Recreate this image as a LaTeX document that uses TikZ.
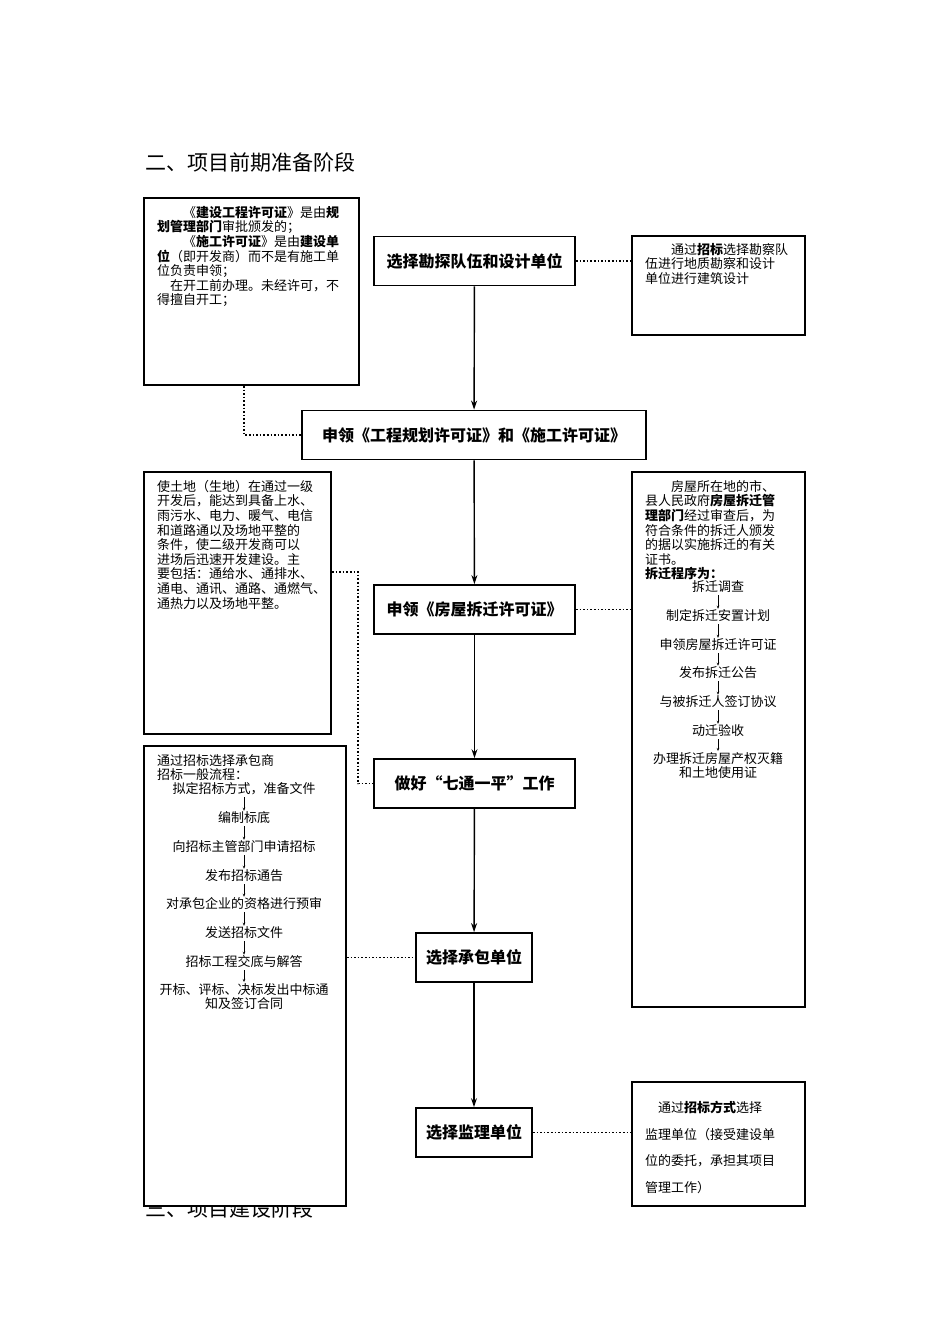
\documentclass[tikz,border=0pt]{standalone}
\usepackage{fontspec}
\setmainfont{Noto Sans CJK SC}
\usetikzlibrary{arrows.meta}
\begin{document}
\begin{tikzpicture}[x=1pt,y=-1pt,
  frame/.style={draw,line width=1.8pt,fill=white},
  flow/.style={draw,line width=1.8pt,font=\fontsize{16}{18}\selectfont\bfseries,inner sep=0pt,minimum height=49pt},
  txt/.style={anchor=north west,align=left,inner sep=0pt,font=\fontsize{13}{14.6}\selectfont},
  item/.style={inner sep=0pt,align=center,font=\fontsize{13}{14.6}\selectfont},
  dot/.style={dotted,line width=1.6pt},
  arr/.style={-{Stealth[length=9pt,width=6pt]},line width=1.4pt},
  sarr/.style={-{Stealth[length=3pt,width=2.5pt]},line width=0.5pt}]
\useasboundingbox (0,0) rectangle (950,1344);
\node[anchor=west,inner sep=0pt,font=\fontsize{21}{24}\selectfont] (t1) at (145,162) {二、项目前期准备阶段};
\node[anchor=west,inner sep=0pt,font=\fontsize{21}{24}\selectfont] (t2) at (145,1208) {三、项目建设阶段};
% frames
\node[frame,minimum width=215pt,minimum height=187pt,inner sep=0pt] (A) at (251.5,291.5) {};
\node[frame,minimum width=173pt,minimum height=99pt,inner sep=0pt] (B) at (718.5,285.5) {};
\node[frame,minimum width=187pt,minimum height=262pt,inner sep=0pt] (C) at (237.5,603) {};
\node[frame,minimum width=173pt,minimum height=535pt,inner sep=0pt] (D) at (718.5,739.5) {};
\node[frame,minimum width=202pt,minimum height=460pt,inner sep=0pt] (E) at (245,976) {};
\node[frame,minimum width=173pt,minimum height=124pt,inner sep=0pt] (F) at (718.5,1144) {};
% flow boxes
\node[flow,minimum width=201pt] (f1) at (474.5,261) {选择勘探队伍和设计单位};
\node[flow,minimum width=344pt] (f2) at (474,435) {申领《工程规划许可证》和《施工许可证》};
\node[flow,minimum width=201pt] (f3) at (474.5,609.5) {申领《房屋拆迁许可证》};
\node[flow,minimum width=201pt] (f4) at (474.5,783.5) {做好“七通一平”工作};
\node[flow,minimum width=116pt] (f5) at (474,957.5) {选择承包单位};
\node[flow,minimum width=116pt] (f6) at (474,1132.5) {选择监理单位};
\draw[arr] (f1) -- (f2);
\draw[arr] (f2) -- (f3);
\draw[arr] (f3) -- (f4);
\draw[arr] (f4) -- (f5);
\draw[arr] (f5) -- (f6);
% dotted
\draw[dot] (f1.east) -- (B.west |- f1.east);
\draw[dot] (A.south -| 244,0) |- (f2.west);
\draw[dot] (C.east |- 0,572) -- (358,572) |- (f4.west);
\draw[dot] (f3.east) -- (D.west |- f3.east);
\draw[dot] (E.east |- f5.west) -- (f5.west);
\draw[dot] (f6.east) -- (F.west |- f6.east);
% texts
\node[txt] (ta) at (157,206) {　　《\textbf{建设工程许可证}》是由\textbf{规}\\\textbf{划管理部门}审批颁发的；\\　　《\textbf{施工许可证}》是由\textbf{建设单}\\\textbf{位}（即开发商）而不是有施工单\\位负责申领；\\　在开工前办理。未经许可，不\\得擅自开工；};
\node[txt] (tb) at (645,243) {　　通过\textbf{招标}选择勘察队\\伍进行地质勘察和设计\\单位进行建筑设计};
\node[txt] (tc) at (157,480) {使土地（生地）在通过一级\\开发后，能达到具备上水、\\雨污水、电力、暖气、电信\\和道路通以及场地平整的\\条件，使二级开发商可以\\进场后迅速开发建设。主\\要包括：通给水、通排水、\\通电、通讯、通路、通燃气、\\通热力以及场地平整。};
\node[txt] (td) at (645,480) {　　房屋所在地的市、\\县人民政府\textbf{房屋拆迁管}\\\textbf{理部门}经过审查后，为\\符合条件的拆迁人颁发\\的据以实施拆迁的有关\\证书。\\\textbf{拆迁程序为：}};
\node[txt] (te) at (157,754) {通过招标选择承包商\\招标一般流程：};
\node[txt,font=\fontsize{13}{26.5}\selectfont] (tf) at (645,1101) {　通过\textbf{招标方式}选择\\监理单位（接受建设单\\位的委托，承担其项目\\管理工作）};
% right list
\node[item] (r1) at (718,587) {拆迁调查};
\node[item] (r2) at (718,616) {制定拆迁安置计划};
\node[item] (r3) at (718,645) {申领房屋拆迁许可证};
\node[item] (r4) at (718,673) {发布拆迁公告};
\node[item] (r5) at (718,702) {与被拆迁人签订协议};
\node[item] (r6) at (718,731) {动迁验收};
\node[item,anchor=north] (r7) at (718,752) {办理拆迁房屋产权灭籍\\和土地使用证};
\foreach \a/\b in {r1/r2,r2/r3,r3/r4,r4/r5,r5/r6,r6/r7} \draw[sarr] ([yshift=-2pt]\a.south) -- ([yshift=1pt]\b.north);
% left list
\node[item] (l1) at (244,789) {拟定招标方式，准备文件};
\node[item] (l2) at (244,818) {编制标底};
\node[item] (l3) at (244,847) {向招标主管部门申请招标};
\node[item] (l4) at (244,876) {发布招标通告};
\node[item] (l5) at (244,904) {对承包企业的资格进行预审};
\node[item] (l6) at (244,933) {发送招标文件};
\node[item] (l7) at (244,962) {招标工程交底与解答};
\node[item,anchor=north] (l8) at (244,983) {开标、评标、决标发出中标通\\知及签订合同};
\foreach \a/\b in {l1/l2,l2/l3,l3/l4,l4/l5,l5/l6,l6/l7,l7/l8} \draw[sarr] ([yshift=-2pt]\a.south) -- ([yshift=1pt]\b.north);
\end{tikzpicture}
\end{document}
